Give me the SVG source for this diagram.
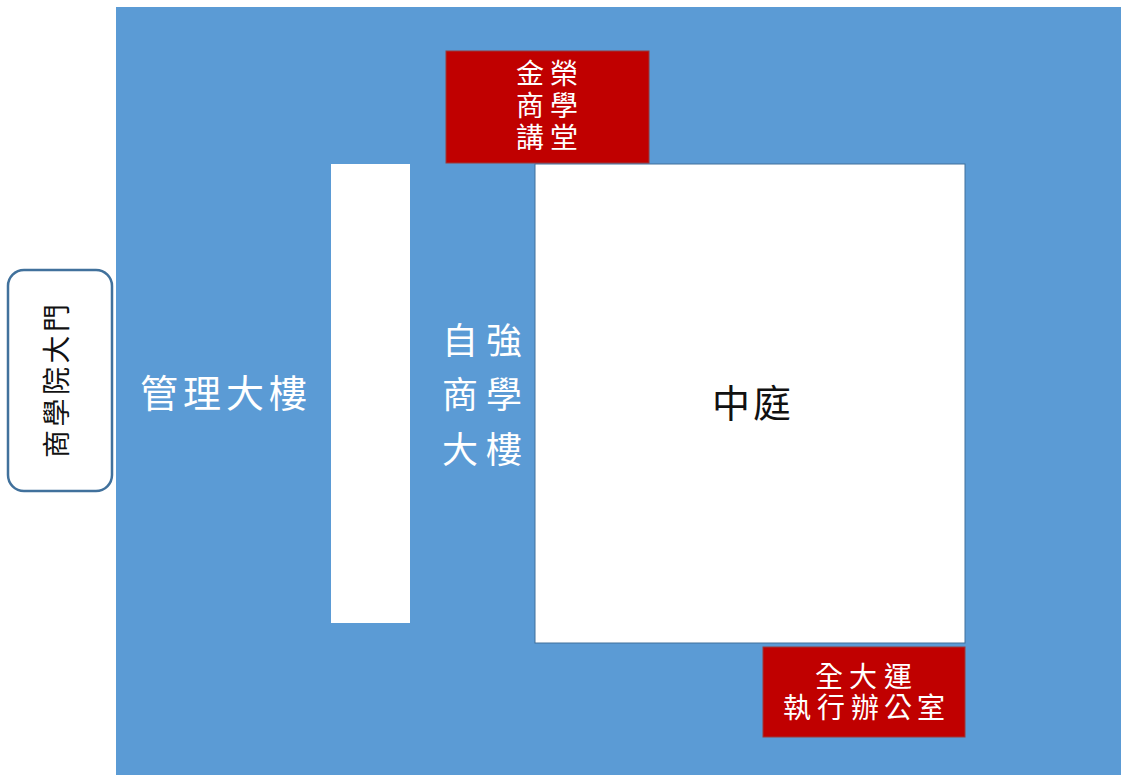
<svg xmlns="http://www.w3.org/2000/svg" width="1121" height="775" viewBox="0 0 1121 775">
<style>
.t{font-family:"Noto Sans CJK TC","Noto Sans CJK SC",sans-serif;text-anchor:middle}
.w{fill:#ffffff}
.k{fill:#111111}
.red{fill:#c00000;stroke:#9a3a3a;stroke-width:1}
.bld{fill:#ffffff}
</style>
<rect x="0" y="0" width="1121" height="775" fill="#ffffff"/>
<g id="campus">
<rect x="116" y="7" width="1005" height="768" fill="#5b9bd5"/>
</g>
<g id="gate">
<rect x="8" y="270" width="104" height="221" rx="16" ry="16" fill="#ffffff" stroke="#41719c" stroke-width="2.5"/>
<text class="t k" font-size="28" transform="translate(57,381) rotate(-90)" y="10"><tspan x="-63">商</tspan><tspan x="-31.5">學</tspan><tspan x="0">院</tspan><tspan x="31.5">大</tspan><tspan x="63">門</tspan></text>
</g>
<g id="management">
<rect class="bld" x="331" y="164" width="79" height="459"/>
<text class="t w" font-size="38" y="407"><tspan x="159">管</tspan><tspan x="202">理</tspan><tspan x="245">大</tspan><tspan x="288">樓</tspan></text>
</g>
<g id="ziqiang">
<text class="t w" font-size="36" y="354"><tspan x="460">自</tspan><tspan x="504">強</tspan></text>
<text class="t w" font-size="36" y="408"><tspan x="460">商</tspan><tspan x="504">學</tspan></text>
<text class="t w" font-size="36" y="463"><tspan x="460">大</tspan><tspan x="504">樓</tspan></text>
</g>
<g id="courtyard">
<rect x="535" y="164" width="430" height="479" fill="#ffffff" stroke="#41719c" stroke-width="1"/>
<text class="t k" font-size="38" y="417"><tspan x="731">中</tspan><tspan x="772">庭</tspan></text>
</g>
<g id="jinrong">
<rect class="red" x="446" y="51" width="203" height="112"/>
<text class="t w" font-size="28" y="84"><tspan x="530">金</tspan><tspan x="564">榮</tspan></text>
<text class="t w" font-size="28" y="116"><tspan x="530">商</tspan><tspan x="564">學</tspan></text>
<text class="t w" font-size="28" y="148"><tspan x="530">講</tspan><tspan x="564">堂</tspan></text>
</g>
<g id="office">
<rect class="red" x="763" y="647" width="202" height="90"/>
<text class="t w" font-size="28" y="687"><tspan x="829">全</tspan><tspan x="863">大</tspan><tspan x="898">運</tspan></text>
<text class="t w" font-size="28" y="718"><tspan x="797">執</tspan><tspan x="831">行</tspan><tspan x="865">辦</tspan><tspan x="898">公</tspan><tspan x="931">室</tspan></text>
</g>
<g id="connectors"></g>
</svg>
